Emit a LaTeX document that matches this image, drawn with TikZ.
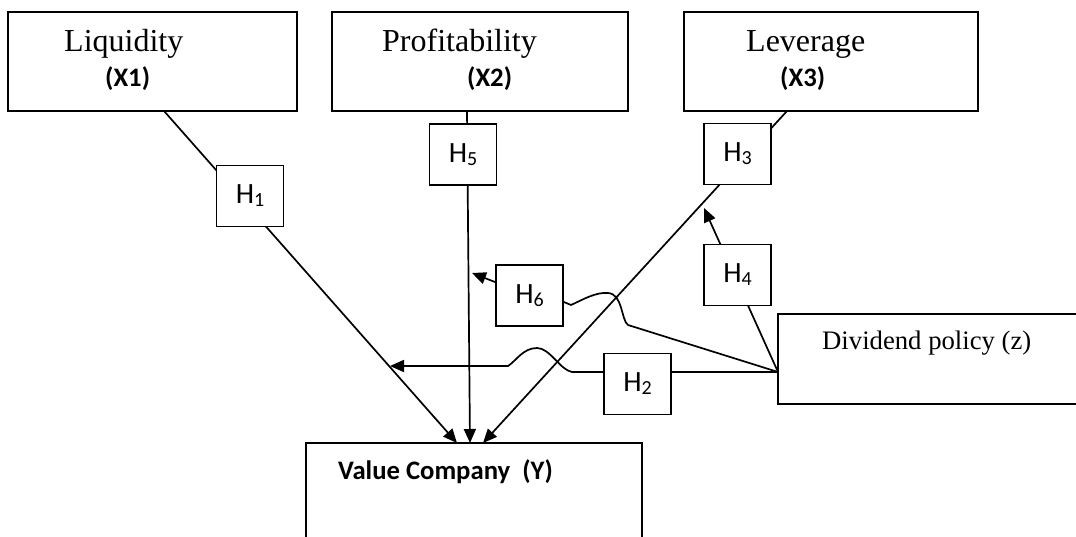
\documentclass[tikz,border=0pt]{standalone}
\usepackage{fontspec}
\setmainfont{Liberation Serif}
\newfontfamily\calibri{Carlito}
\usetikzlibrary{arrows.meta}
\begin{document}
\begin{tikzpicture}[x=1pt,y=-1pt,
  box/.style={draw,line width=1.8pt,fill=white,inner sep=0pt},
  hbox/.style={box,minimum width=67pt,minimum height=61pt,font=\calibri\fontsize{29.4}{30}\selectfont},
  conn/.style={line width=1.7pt},
  arr/.style={conn,-{Triangle[length=14pt,width=12pt]}},
  lbl/.style={anchor=base west,inner sep=0pt},
  serifbig/.style={font=\fontsize{32}{36}\selectfont},
  serifmid/.style={font=\fontsize{26.7}{30}\selectfont},
  calbold/.style={font=\calibri\bfseries\fontsize{26.7}{30}\selectfont}]
\useasboundingbox (0,0) rectangle (1076,537);

% named end points
\coordinate (a1) at (164,111);
\coordinate (a2) at (467,111);
\coordinate (a3) at (787,111);
\coordinate (v1) at (457,443);
\coordinate (v2) at (470,443);
\coordinate (v3) at (483,443);
\coordinate (dv) at (778,372);
\coordinate (t4) at (704,208);
\coordinate (t6) at (472,273);
\coordinate (t2) at (390,366);

% main connectors (drawn first; boxes cover them)
\draw[arr] (a1) -- (v1);
\draw[arr] (a2) -- (v2);
\draw[arr] (a3) -- (v3);
\draw[arr] (dv) -- (t4);

% big boxes
\node[box,minimum width=289pt,minimum height=99pt] (liq) at (152.5,61.5) {};
\node[box,minimum width=296pt,minimum height=99pt] (prof) at (480,61.5) {};
\node[box,minimum width=294pt,minimum height=99pt] (lev) at (831,61.5) {};
\node[box,minimum width=320pt,minimum height=90pt] (div) at (938,359) {};
\node[box,minimum width=336pt,minimum height=130pt] (val) at (474,508) {};

% labels
\node[lbl,serifbig] (liqt) at (64,52) {Liquidity};
\node[lbl,calbold] (liqx) at (105,87) {(X1)};
\node[lbl,serifbig] (proft) at (382,52) {Profitability};
\node[lbl,calbold] (profx) at (467,87) {(X2)};
\node[lbl,serifbig] (levt) at (746,52) {Leverage};
\node[lbl,calbold] (levx) at (780,87) {(X3)};
\node[lbl,serifmid] (divt) at (822,349) {Dividend policy (z)};
\node[lbl,calbold] (valt) at (338,479) {Value Company\ \ (Y)};

% hypothesis boxes
\newcommand{\hyp}[1]{H\raisebox{-3pt}{\fontsize{20}{20}\selectfont #1}}
\node[hbox] (H1) at (250,196) {\hyp{1}};
\node[hbox] (H5) at (463,154.5) {\hyp{5}};
\node[hbox] (H3) at (737.5,154) {\hyp{3}};
\node[hbox] (H4) at (737.5,275) {\hyp{4}};
\node[hbox] (H6) at (529.5,295.5) {\hyp{6}};
\node[hbox] (H2) at (637.5,384) {\hyp{2}};

% H6 wavy connector
\draw[conn] (dv) -- (628,325) .. controls (621,320) and (623,294) .. (608,293)
  .. controls (596,292) and (584,299) .. (571,305) -- (H6.east |- 0,302);
\draw[arr] (H6) -- (t6);

% H2 wavy connector
\draw[conn] (dv) -- (dv -| H2.east);
\draw[arr] (dv -| H2.west) -- (572,372) .. controls (560,370) and (550,348) .. (537,348)
  .. controls (523,348) and (516,361) .. (508,366) -- (t2);
\end{tikzpicture}
\end{document}
